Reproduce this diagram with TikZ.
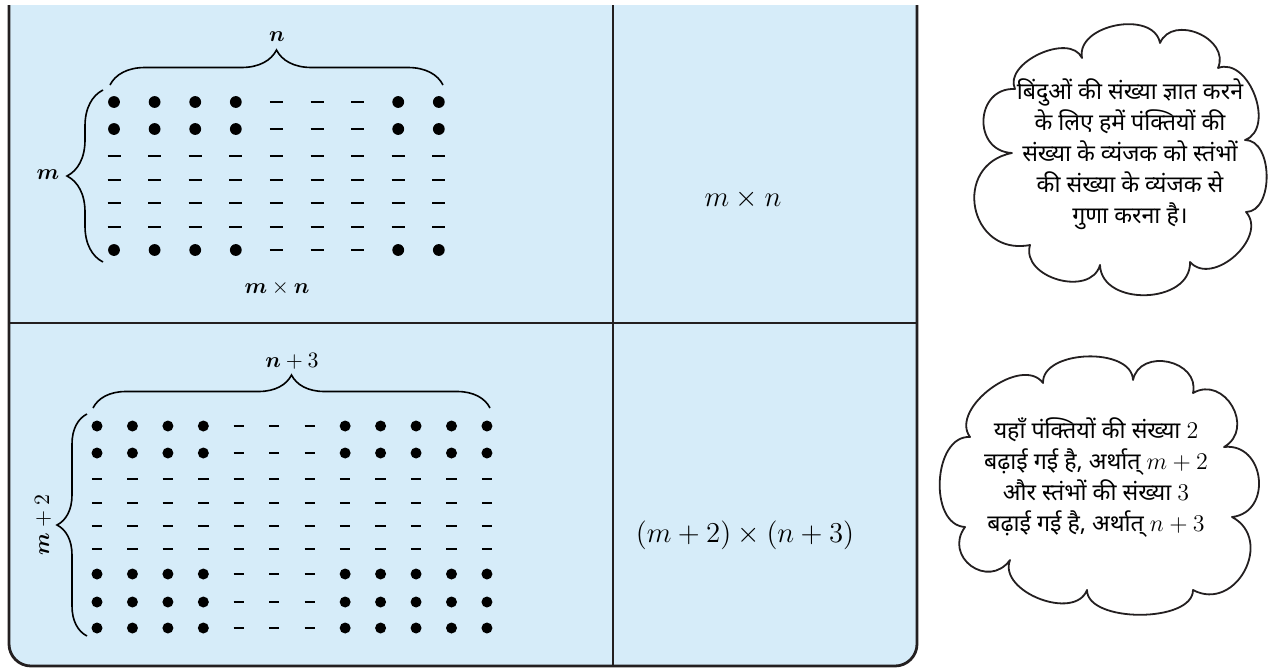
\documentclass[tikz,border=0pt]{standalone}
\usepackage{amsmath}
\usepackage{fontspec}
\newfontfamily\hindifont[Script=Devanagari]{Noto Sans}
\usetikzlibrary{decorations.pathreplacing}

\definecolor{cellblue}{RGB}{214,236,249}
\definecolor{inkline}{RGB}{35,31,32}

\tikzset{every picture/.style={line width=0.75pt}}
\tikzset{
  framebox/.style={draw=inkline, line width=1.4pt, rounded corners=11pt},
  divider/.style={draw=inkline, line width=1.1pt},
  dashmark/.style={line width=1.3pt},
  bracemark/.style={decorate, decoration={brace, amplitude=#1}, line width=0.8pt},
  cloudline/.style={draw=inkline, line width=0.9pt, line join=round},
  lobe/.style={bend right=90, looseness=#1},
  hinditext/.style={font=\hindifont\fontsize{11.6}{15.5}\selectfont, align=center, inner sep=0pt},
  smallmath/.style={font=\fontsize{10.5}{12}\selectfont, inner sep=0pt},
  cellmath/.style={font=\fontsize{13.5}{16}\selectfont, inner sep=0pt}
}

% one place of the grid: dot (1) or dash (0); #4 dot radius, #5 half dash
\newcommand{\gridmark}[5]{%
  \ifnum#1=1 \fill (#2,#3) circle (#4);%
  \else \draw[dashmark] (#2-#5,#3) -- (#2+#5,#3);\fi}

\begin{document}
\begin{tikzpicture}[x=0.5pt,y=0.5pt,yscale=-1,xscale=1]
\useasboundingbox (0,0) rectangle (1268,669);

%Table: fill and frame
\fill[cellblue, rounded corners=11pt] (9,5) rectangle (917,666);
\fill[cellblue] (9,5) rectangle (917,60);
\draw[framebox] (9,5) -- (9,666) -- (917,666) -- (917,5);
%Table: dividers
\draw[divider] (613,5) -- (613,666);
\draw[divider] (9,323) -- (917,323);

%Grid: m rows, n columns
\foreach \ry/\kind in {102/1,129/1,156/0,180/0,203/0,227/0,250/1}{
  \foreach \cc in {0,...,8}{
    \pgfmathsetmacro{\cx}{114+40.6*\cc}
    \pgfmathtruncatemacro{\k}{and(\kind==1, or(\cc<4,\cc>6))}
    \gridmark{\k}{\cx}{\ry}{5.9}{6.5}
  }
}
%Grid: m+2 rows, n+3 columns
\foreach \ry/\kind in {426/1,453/1,479/0,503/0,526/0,549/0,574/1,602/1,628/1}{
  \foreach \cc in {0,...,11}{
    \pgfmathsetmacro{\cx}{97+35.45*\cc}
    \pgfmathtruncatemacro{\k}{and(\kind==1, or(\cc<4,\cc>6))}
    \gridmark{\k}{\cx}{\ry}{5.5}{5.2}
  }
}

%Braces
\draw[bracemark=17.5pt] (110,85) -- (443,85);
\draw[bracemark=18pt] (103,262) -- (103,90);
\draw[bracemark=16.5pt] (93,408) -- (490,408);
\draw[bracemark=15pt] (87,636) -- (87,414);

% Text Node
\node[smallmath] (lblN) at (277,37) {$\boldsymbol{n}$};
% Text Node
\node[smallmath] (lblM) at (48,175) {$\boldsymbol{m}$};
% Text Node
\node[smallmath] (lblMN) at (277,288) {$\boldsymbol{m}\times\boldsymbol{n}$};
% Text Node
\node[smallmath] (lblN3) at (292,361) {$\boldsymbol{n}+3$};
% Text Node
\node[smallmath, rotate=90] (lblM2) at (43,525) {$\boldsymbol{m}+2$};
% Text Node
\node[cellmath] (cellMN) at (743,199) {$m\times n$};
% Text Node
\node[cellmath] (cellM2N3) at (745,535) {$(m+2)\times(n+3)$};

%Shape: Cloud (top)
\draw[cloudline] (1015,89) to[lobe=1.0] (1082,58) to[lobe=1.1] (1160,43)
  to[lobe=1.3] (1218,68) to[lobe=1.1] (1245,140) to[lobe=1.0] (1246,212)
  to[lobe=1.15] (1190,262) to[lobe=1.2] (1100,265) to[lobe=1.2] (1030,245)
  to[lobe=1.7] (1012,153) to[lobe=1.6] (1015,89) -- cycle;
%Shape: Cloud (bottom)
\draw[cloudline] (970,437) to[lobe=1.0] (1043,383) to[lobe=0.95] (1133,380)
  to[lobe=1.4] (1193,393) to[lobe=1.5] (1224,447) to[lobe=1.5] (1232,517)
  to[lobe=1.5] (1193,590) to[lobe=0.8] (1087,590) to[lobe=1.05] (1010,560)
  to[lobe=1.7] (965,527) to[lobe=1.05] (970,437) -- cycle;

% Text Node
\node[hinditext] (noteTop) at (1130,154) {बिंदुओं की संख्या ज्ञात करने\\के लिए हमें पंक्तियों की\\संख्या के व्यंजक को स्तंभों\\की संख्या के व्यंजक से\\गुणा करना है।};
% Text Node
\node[hinditext] (noteBottom) at (1096,478) {यहाँ पंक्तियों की संख्या $2$\\बढ़ाई गई है, अर्थात् $m+2$\\और स्तंभों की संख्या $3$\\बढ़ाई गई है, अर्थात् $n+3$};

\end{tikzpicture}
\end{document}
